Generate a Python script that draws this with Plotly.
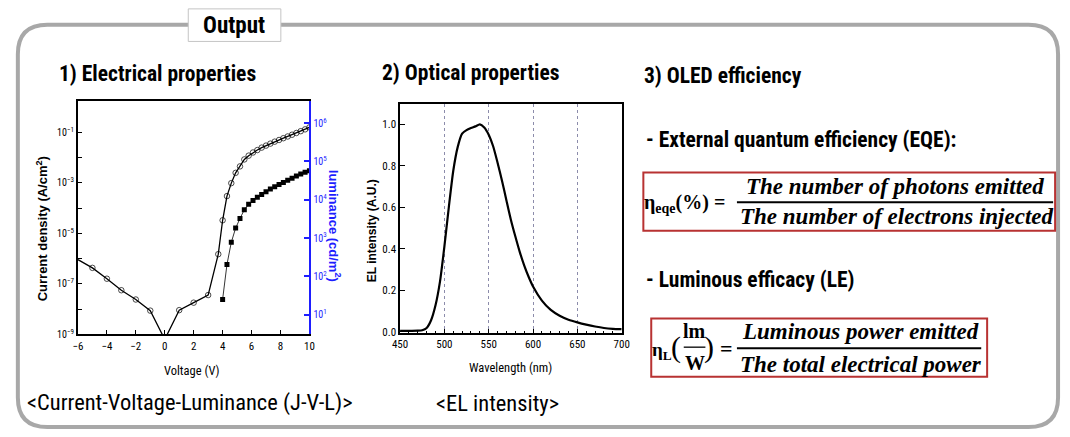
import plotly.graph_objects as go

# ---------------- data ----------------
# J-V curve (current density, A/cm^2)
voltage_j = [-6, -5, -4, -3, -2, -1, 0, 1, 2, 3, 3.7, 4.0, 4.3, 4.6, 4.9, 5.2, 5.5, 5.8,
             6.1, 6.4, 6.7, 7.0, 7.3, 7.6, 7.9, 8.2, 8.5, 8.8, 9.1, 9.4, 9.7, 10.0]
current_density = [9.1e-7, 4.3e-7, 1.6e-7, 5.6e-8, 2.4e-8, 8.7e-9, 6.3e-10, 9.1e-9, 1.8e-8, 3.6e-8,
                   1.5e-6, 3.3e-5, 3.0e-4, 9.8e-4, 2.5e-3, 4.5e-3, 8.5e-3, 1.2e-2,
                   1.6e-2, 2.0e-2, 2.5e-2, 3.0e-2, 3.6e-2, 4.3e-2, 5.0e-2, 5.9e-2, 6.9e-2, 8.1e-2,
                   9.5e-2, 0.112, 0.132, 0.158]

# L-V curve (luminance, cd/m^2)
voltage_l = [4.0, 4.3, 4.6, 4.9, 5.2, 5.5, 5.8, 6.1, 6.4, 6.7, 7.0, 7.3, 7.6, 7.9, 8.2, 8.5,
             8.8, 9.1, 9.4, 9.7, 10.0]
luminance = [25, 204, 776, 1820, 3240, 5500, 7590, 9550, 11700, 13800, 16200, 19100, 21900,
             25100, 28200, 32400, 36300, 41700, 46800, 52500, 57500]

# EL spectrum
wavelength = [450, 460, 470, 475, 480, 485, 490, 495, 500, 505, 510, 515, 520, 525, 530, 535,
              540, 545, 550, 555, 560, 565, 570, 575, 580, 585, 590, 595, 600, 610, 620, 630,
              640, 650, 660, 670, 680, 690, 700]
el_intensity = [0.004, 0.004, 0.005, 0.007, 0.018, 0.055, 0.127, 0.24, 0.41, 0.60, 0.775, 0.89,
                0.955, 0.972, 0.982, 0.99, 1.0, 0.985, 0.95, 0.894, 0.815, 0.728, 0.633, 0.54,
                0.46, 0.385, 0.32, 0.265, 0.218, 0.15, 0.105, 0.077, 0.058, 0.045, 0.034, 0.025,
                0.018, 0.014, 0.012]

# axis ticks
j_decades = [-9, -8, -7, -6, -5, -4, -3, -2, -1]
l_decades = [1, 2, 3, 4, 5, 6]
v_ticks = [-6, -4, -2, 0, 2, 4, 6, 8, 10]
wl_ticks = [450, 500, 550, 600, 650, 700]
el_ticks = [0.0, 0.2, 0.4, 0.6, 0.8, 1.0]

# ---------------- styling helpers ----------------
W, H = 1070, 437
NARROW = "Liberation Sans Narrow, Arial Narrow, Roboto Condensed, Liberation Sans, sans-serif"
SANS = "Liberation Sans, Arial, sans-serif"
SERIF = "Liberation Serif, Times New Roman, DejaVu Serif, serif"
BLUE = "#1e1eff"
FRAME_GREY = "#a8a8a8"
BOX_RED = "#b83232"


def X(px):
    return px / W


def Y(py):
    return 1 - py / H


fig = go.Figure()

# J-V: open circles, V=0 point and the -6 V end carry no marker
j_sizes = [0 if v in (-6, 0) else 5.5 for v in voltage_j]
fig.add_trace(go.Scatter(
    x=voltage_j, y=current_density, mode="lines+markers",
    line=dict(color="black", width=1.3),
    marker=dict(symbol="circle-open", size=j_sizes, color="black", line=dict(width=1)),
    xaxis="x", yaxis="y", cliponaxis=True,
))

# L-V: filled squares on the right-hand luminance axis
fig.add_trace(go.Scatter(
    x=voltage_l, y=luminance, mode="lines+markers",
    line=dict(color="black", width=0.8),
    marker=dict(symbol="square", size=5, color="black"),
    xaxis="x", yaxis="y2",
))

# EL spectrum
fig.add_trace(go.Scatter(
    x=wavelength, y=el_intensity, mode="lines",
    line=dict(color="black", width=2.2, shape="spline", smoothing=0.6),
    xaxis="x3", yaxis="y3",
))

tickfont = dict(family=NARROW, size=11, color="black")
MINUS = "&#8722;"

fig.update_layout(
    width=W, height=H,
    margin=dict(l=0, r=0, t=0, b=0),
    paper_bgcolor="white", plot_bgcolor="white",
    showlegend=False,
    xaxis=dict(
        domain=[X(71), X(306)], anchor="y", range=[-6, 10],
        tickmode="array", tickvals=v_ticks,
        ticktext=[(MINUS + str(-v)) if v < 0 else str(v) for v in v_ticks],
        ticks="inside", ticklen=4, tickcolor="black",
        showline=True, linecolor="black", linewidth=2, mirror=True,
        showgrid=False, zeroline=False, tickfont=tickfont,
    ),
    yaxis=dict(
        domain=[Y(339), Y(102)], anchor="x", type="log", range=[-9, 0.26],
        tickmode="array", tickvals=[10 ** d for d in j_decades],
        ticktext=[f"10<sup>{MINUS}{-d}</sup>" if d % 2 else "" for d in j_decades],
        ticks="inside", ticklen=4, tickcolor="black",
        showline=True, linecolor="black", linewidth=2, mirror=False,
        showgrid=False, zeroline=False, tickfont=dict(family=NARROW, size=10, color="black"),
    ),
    yaxis2=dict(
        domain=[Y(339), Y(102)], anchor="x", overlaying="y", side="right",
        type="log", range=[0.485, 6.59],
        tickmode="array", tickvals=[10 ** d for d in l_decades],
        ticktext=[f"10<sup>{d}</sup>" for d in l_decades],
        ticks="inside", ticklen=5, tickcolor=BLUE, tickwidth=2,
        showline=True, linecolor=BLUE, linewidth=2,
        showgrid=False, zeroline=False, tickfont=dict(family=NARROW, size=10, color=BLUE),
    ),
    xaxis3=dict(
        domain=[X(398), X(623)], anchor="y3", range=[450, 700],
        tickmode="array", tickvals=wl_ticks, ticktext=[str(v) for v in wl_ticks],
        ticks="inside", ticklen=5, tickcolor="black",
        minor=dict(dtick=10, ticks="inside", ticklen=3, tickcolor="black", showgrid=False),
        showline=True, linecolor="black", linewidth=1.5, mirror=True,
        showgrid=True, gridcolor="#8c8cab", griddash="dot", gridwidth=1,
        zeroline=False, tickfont=tickfont,
    ),
    yaxis3=dict(
        domain=[Y(338), Y(105)], anchor="x3", range=[-0.008, 1.1],
        tickmode="array", tickvals=el_ticks, ticktext=[f"{v:.1f}" for v in el_ticks],
        ticks="inside", ticklen=5, tickcolor="black",
        showline=True, linecolor="black", linewidth=1.5, mirror=True,
        showgrid=False, zeroline=False, tickfont=tickfont,
    ),
)

# ---------------- shapes ----------------
shapes = []

# rounded outer frame
x0, x1, y0, y1, r = 10, 1066, 25, 433, 30
path = (
    f"M {X(x0 + r)},{Y(y0)} L {X(x1 - r)},{Y(y0)} Q {X(x1)},{Y(y0)} {X(x1)},{Y(y0 + r)} "
    f"L {X(x1)},{Y(y1 - r)} Q {X(x1)},{Y(y1)} {X(x1 - r)},{Y(y1)} "
    f"L {X(x0 + r)},{Y(y1)} Q {X(x0)},{Y(y1)} {X(x0)},{Y(y1 - r)} "
    f"L {X(x0)},{Y(y0 + r)} Q {X(x0)},{Y(y0)} {X(x0 + r)},{Y(y0)} Z"
)
shapes.append(dict(type="path", path=path, xref="paper", yref="paper",
                   line=dict(color=FRAME_GREY, width=4)))

# title tab
shapes.append(dict(type="rect", xref="paper", yref="paper",
                   x0=X(183), x1=X(277), y0=Y(42), y1=Y(9),
                   fillcolor="white", line=dict(color="#c4c4c4", width=1)))

# formula boxes
shapes.append(dict(type="rect", xref="paper", yref="paper",
                   x0=X(645), x1=X(1063), y0=Y(234), y1=Y(175),
                   fillcolor="rgba(0,0,0,0)", line=dict(color=BOX_RED, width=2)))
shapes.append(dict(type="rect", xref="paper", yref="paper",
                   x0=X(653), x1=X(994), y0=Y(382), y1=Y(323),
                   fillcolor="rgba(0,0,0,0)", line=dict(color=BOX_RED, width=2)))

# fraction bars
shapes.append(dict(type="line", xref="paper", yref="paper",
                   x0=X(740), x1=X(1061), y0=Y(205), y1=Y(205),
                   line=dict(color="black", width=2)))
shapes.append(dict(type="line", xref="paper", yref="paper",
                   x0=X(740), x1=X(988), y0=Y(353), y1=Y(353),
                   line=dict(color="black", width=2)))
shapes.append(dict(type="line", xref="paper", yref="paper",
                   x0=X(686), x1=X(708), y0=Y(352), y1=Y(352),
                   line=dict(color="black", width=1.3)))

fig.update_layout(shapes=shapes)

# ---------------- text ----------------
def label(text, x, y, size, family=NARROW, color="black", angle=0, weight="normal"):
    fig.add_annotation(text=text, x=X(x), y=Y(y), xref="paper", yref="paper",
                       xanchor="center", yanchor="middle", showarrow=False,
                       textangle=angle,
                       font=dict(family=family, size=size, color=color, weight=weight))


label("Output", 229, 26, 23, weight="bold")
label("1) Electrical properties", 152, 75, 21.5, weight="bold")
label("2) Optical properties", 470, 74, 21.5, weight="bold")
label("3) OLED efficiency", 726, 77, 21.5, weight="bold")
label("- External quantum efficiency (EQE):", 805, 141, 21.5, weight="bold")
label("- Luminous efficacy (LE)", 753, 283, 21.5, weight="bold")
label("&lt;Current-Voltage-Luminance (J-V-L)&gt;", 185, 408, 22.5)
label("&lt;EL intensity&gt;", 497, 409, 22.5)

# axis titles
label("<b>Current density (A/cm<sup>2</sup>)</b>", 34, 232, 13, family=SANS, angle=-90)
label("<b>luminance (cd/m<sup>2</sup>)</b>", 332, 229, 13, family=SANS, color=BLUE, angle=90)
label("<b>EL intensity (A.U.)</b>", 369, 234, 12, family=SANS, angle=-90)
label("Voltage (V)", 187, 376, 12.5)
label("Wavelength (nm)", 510, 373, 12.5)

# EQE formula
label("<b>η<sub>eqe</sub>(%) =</b>", 687, 206, 20, family=SERIF)
label("<b><i>The number of photons emitted</i></b>", 900, 189, 23, family=SERIF)
label("<b><i>The number of electrons injected</i></b>", 902, 220, 23, family=SERIF)

# LE formula
label("<b>η<sub>L</sub></b>", 664, 356, 19, family=SERIF)
label("(", 678, 352, 30, family=SERIF)
label("<b>lm</b>", 697, 336, 20, family=SERIF)
label("<b>W</b>", 697, 368, 20, family=SERIF)
label(")", 712, 352, 30, family=SERIF)
label("<b>=</b>", 729, 353, 22, family=SERIF)
label("<b><i>Luminous power emitted</i></b>", 865, 336, 23, family=SERIF)
label("<b><i>The total electrical power</i></b>", 866, 370, 23, family=SERIF)

fig.write_html("out.html")
